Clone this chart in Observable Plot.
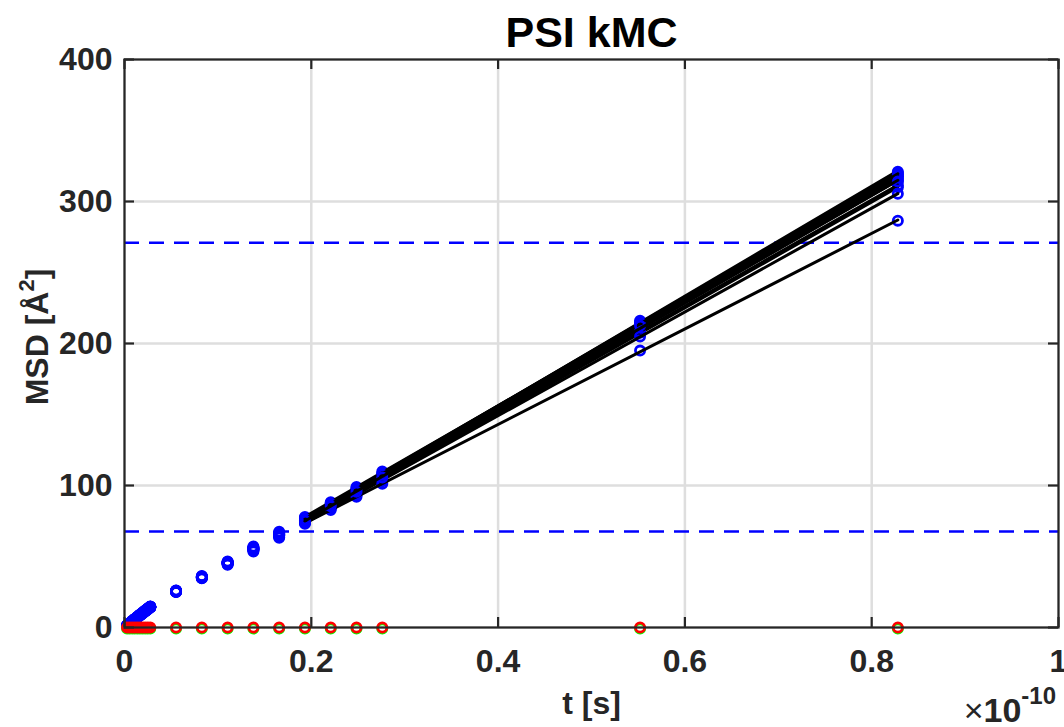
<!DOCTYPE html>
<html><head><meta charset="utf-8">
<script src="https://cdn.jsdelivr.net/npm/d3@7"></script>
<script src="https://cdn.jsdelivr.net/npm/@observablehq/plot@0.6"></script>
<style>body{margin:0;background:#fff} svg{display:block}</style>
</head><body><div id="chart"></div>
<script>
// time in units of 1e-10 s
const times = [0.00276,0.00552,0.00828,0.01104,0.0138,0.01656,0.01932,0.02208,0.02484,0.0276,
  0.0552,0.0828,0.1104,0.138,0.1656,0.1932,0.2208,0.2484,0.276,0.552,0.828];
// blue: MSD [Å^2] per trajectory
const blue1  = [1.5,3.0,4.5,5.9,7.4,8.8,10.2,11.6,13.1,14.5, 25.6,35.5,45.6,55.5,65.6,75.8,86.0,96.2,106.3,211.5,317.5];
const blue2  = [1.4,2.9,4.4,5.8,7.3,8.7,10.1,11.5,12.9,14.3, 25.3,35.2,45.3,55.0,65.0,75.0,85.2,95.4,105.4,210.0,315.0];
const blue3  = [1.5,3.0,4.5,6.0,7.5,8.9,10.4,11.8,13.3,14.7, 25.9,36.0,46.2,56.5,66.7,77.3,87.5,98.0,108.4,214.5,320.0];
const blue4  = [1.4,2.9,4.3,5.8,7.2,8.6,10.0,11.4,12.8,14.2, 25.2,35.0,45.0,54.8,64.6,74.0,84.2,93.8,103.8,207.5,310.0];
const blue5  = [1.5,3.0,4.5,6.0,7.4,8.9,10.3,11.8,13.2,14.6, 25.8,35.8,46.0,56.2,66.3,76.4,86.6,97.0,107.5,216.0,321.0];
const blue6  = [1.5,2.9,4.4,5.9,7.3,8.8,10.2,11.7,13.1,14.5, 25.5,35.5,45.5,55.6,65.6,75.5,85.8,96.0,106.0,211.0,316.0];
const blue7  = [1.5,3.0,4.5,6.0,7.5,9.0,10.5,11.9,13.4,14.8, 26.0,36.2,46.5,57.0,67.4,77.8,88.2,99.0,109.8,213.0,318.0];
const blue8  = [1.4,2.9,4.4,5.8,7.3,8.7,10.1,11.6,13.0,14.4, 25.4,35.2,45.2,55.1,65.0,74.4,85.0,95.2,105.0,208.5,311.5];
const blue9  = [1.4,2.9,4.3,5.7,7.2,8.6,10.0,11.4,12.8,14.2, 25.1,34.8,44.6,54.2,63.8,74.0,84.0,93.4,103.0,205.0,305.5];
const blue10 = [1.4,2.8,4.3,5.7,7.1,8.5,9.9,11.3,12.7,14.1, 25.0,34.6,44.2,53.6,63.2,73.0,82.8,92.0,101.2,195.0,286.5];
const blue11 = [1.5,3.0,4.4,5.9,7.4,8.8,10.3,11.7,13.2,14.6, 25.7,35.7,45.9,55.9,66.0,76.6,86.9,97.4,107.8,215.0,319.0];
const blue12 = [1.4,2.9,4.4,5.8,7.3,8.7,10.2,11.6,13.0,14.4, 25.4,35.3,45.4,55.3,65.3,75.2,85.4,95.6,105.6,212.5,314.0];
const blueSeries = [blue1,blue2,blue3,blue4,blue5,blue6,blue7,blue8,blue9,blue10,blue11,blue12];
const redValues   = [0,0,0,0,0,0,0,0,0,0, 0,0,0,0,0,0,0,0,0,0,0];
const greenValues = [0,0,0,0,0,0,0,0,0,0, 0,0,0,0,0,0,0,0,0,0,0];
const fitStart = 0.19; // fit over t >= this
const dashedLevels = [67.6, 271.0];
const xTicks = [0,0.2,0.4,0.6,0.8,1];
const xTickLabels = ["0","0.2","0.4","0.6","0.8","1"];
const yTicks = [0,100,200,300,400];

const W=1064,H=727,mL=124,mR=6,mT=59,mB=100;
const fw=W-mL-mR, fh=H-mT-mB;
const ink="#262626", font="'Liberation Sans', Arial, Helvetica, sans-serif";

function fitLine(vals){
  const pts=times.map((t,i)=>({t,v:vals[i]})).filter(p=>p.t>=fitStart);
  const mt=d3.mean(pts,p=>p.t), mv=d3.mean(pts,p=>p.v);
  const b=d3.sum(pts,p=>(p.t-mt)*(p.v-mv))/d3.sum(pts,p=>(p.t-mt)**2);
  const a=mv-b*mt;
  const t0=d3.min(pts,p=>p.t), t1=d3.max(pts,p=>p.t);
  return [{t:t0,v:a+b*t0},{t:t1,v:a+b*t1}];
}
const pointsOf=(vals)=>times.map((t,i)=>({t,v:vals[i]}));

const marks=[
  Plot.gridX(xTicks,{stroke:"#dedede",strokeOpacity:1,strokeWidth:2.5}),
  Plot.gridY(yTicks,{stroke:"#dedede",strokeOpacity:1,strokeWidth:2.5}),
  Plot.ruleY(dashedLevels,{stroke:"#0000ff",strokeWidth:2.6,strokeDasharray:"15,10"}),
];
blueSeries.forEach(s=>{
  marks.push(Plot.dot(pointsOf(s),{x:"t",y:"v",r:4.6,stroke:"#0000ff",strokeWidth:2.8,fill:"none"}));
  marks.push(Plot.line(fitLine(s),{x:"t",y:"v",stroke:"#000",strokeWidth:3}));
});
marks.push(
  Plot.dot(pointsOf(greenValues),{x:"t",y:"v",r:4.6,stroke:"#00ff00",strokeWidth:2.8,fill:"none",dy:1}),
  Plot.dot(pointsOf(redValues),{x:"t",y:"v",r:4.6,stroke:"#ff0000",strokeWidth:2.8,fill:"none"}),
  Plot.frame({stroke:ink,strokeWidth:2.2}),
  Plot.tickX(xTicks,{x:d=>d,insetTop:fh-10,stroke:ink,strokeWidth:2.2}),
  Plot.tickX(xTicks,{x:d=>d,insetBottom:fh-10,stroke:ink,strokeWidth:2.2}),
  Plot.tickY(yTicks,{y:d=>d,insetRight:fw-10,stroke:ink,strokeWidth:2.2}),
  Plot.tickY(yTicks,{y:d=>d,insetLeft:fw-10,stroke:ink,strokeWidth:2.2}),
  Plot.axisX(xTicks,{tickSize:0,tickPadding:22,tickFormat:d=>xTickLabels[xTicks.indexOf(d)],fontSize:32,fontWeight:"bold",fill:ink,label:null}),
  Plot.axisY(yTicks,{tickSize:0,tickPadding:12,fontSize:32,fontWeight:"bold",fill:ink,label:null}),
  Plot.text(["PSI kMC"],{frameAnchor:"top",lineAnchor:"middle",dy:-26,fontSize:43,fontWeight:"bold",fill:"#000"}),
  Plot.text(["t [s]"],{frameAnchor:"bottom",lineAnchor:"middle",dy:76,fontSize:32,fontWeight:"bold",fill:ink})
);

const svg=Plot.plot({
  width:W,height:H,marginLeft:mL,marginRight:mR,marginTop:mT,marginBottom:mB,
  x:{domain:[0,1]}, y:{domain:[0,400]},
  style:{fontFamily:font,background:"#fff",overflow:"visible"},
  marks
});
document.getElementById("chart").appendChild(svg);

// y label with superscript
const s=d3.select(svg);
const yl=s.append("text").attr("transform",`translate(48,${mT+fh/2-6}) rotate(-90)`)
  .attr("text-anchor","middle").attr("font-family",font).attr("font-size",32).attr("font-weight","bold").attr("fill",ink);
yl.append("tspan").text("MSD [Å");
yl.append("tspan").attr("font-size",22).attr("dy",-14).text("2");
yl.append("tspan").attr("dy",14).text("]");
// exponent label
const ex=s.append("text").attr("x",W-8).attr("y",722).attr("text-anchor","end")
  .attr("font-family",font).attr("font-size",34).attr("font-weight","bold").attr("fill",ink);
ex.append("tspan").attr("font-weight","normal").text("×");
ex.append("tspan").text("10");
ex.append("tspan").attr("font-size",24).attr("dy",-18).text("-10");
</script></body></html>
